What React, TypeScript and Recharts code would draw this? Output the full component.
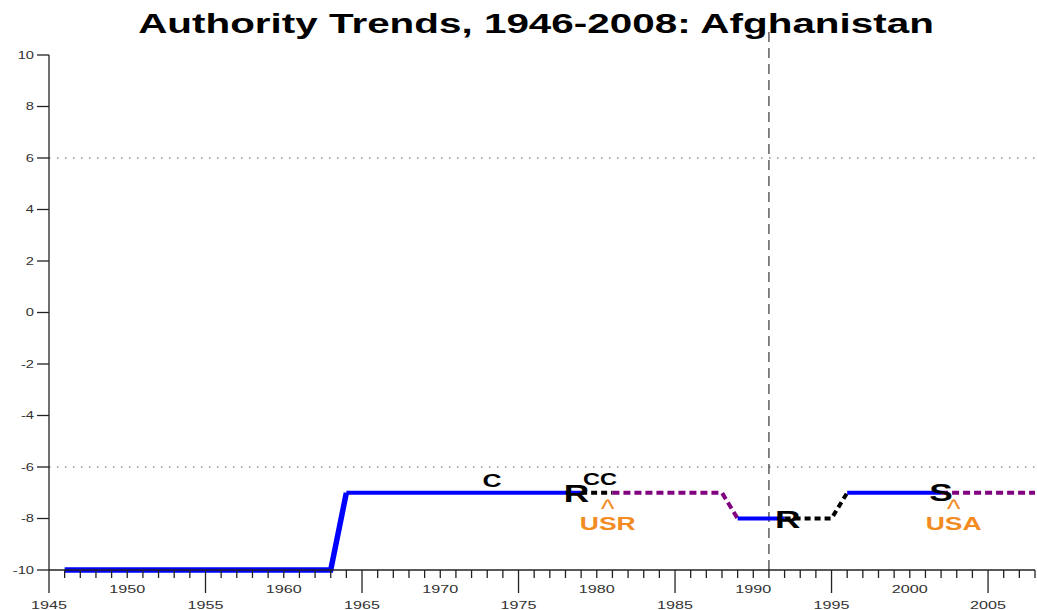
import React from "react";
import { ComposedChart, Line, Scatter, XAxis, YAxis, ReferenceLine } from "recharts";

const FONT = '"Liberation Sans", Arial, Helvetica, sans-serif';
// the source picture is stretched sideways, so text gets widened too
const SX = 1.47;

// polity score segments as [year, score]
const autocracyEarly = [[1946, -10], [1963, -10], [1964, -7]];
const autocracyLate = [[1964, -7], [1979, -7]];
const transitionOne = [[1979, -7], [1981, -7]];
const interruptionOne = [[1981, -7], [1988, -7], [1989, -8]];
const autocracyMid = [[1989, -8], [1992, -8]];
const transitionTwo = [[1992, -8], [1995, -8], [1996, -7]];
const autocracyRecent = [[1996, -7], [2002, -7]];
const interruptionTwo = [[2002, -7], [2008, -7]];

// event codes on the line
const eventYears = [1973.3, 1978.7, 1980.2, 1992.2, 2002];
const eventLevels = [-7, -7, -7, -8, -7];
const eventCodes = ["C", "R", "CC", "R", "S"];

// foreign interventions
const foreignYears = [1980.7, 2002.8];
const foreignLevels = [-7, -7];
const foreignCodes = ["USR", "USA"];

const yTicks = [-10, -8, -6, -4, -2, 0, 2, 4, 6, 8, 10];
const xStart = 1945;
const xEnd = 2008;
const xTicks = Array.from({ length: xEnd - xStart + 1 }, (_, i) => xStart + i);

const toRows = (pts: number[][]) => pts.map(([year, v]) => ({ year, v }));
const events = eventYears.map((year, i) => ({ year, v: eventLevels[i], code: eventCodes[i] }));
const foreign = foreignYears.map((year, i) => ({ year, v: foreignLevels[i], code: foreignCodes[i] }));

const eventStyle: Record<string, { size: number; dy: number }> = {
  C: { size: 18, dy: -6 },
  CC: { size: 16, dy: -8 },
  R: { size: 24, dy: 9 },
  S: { size: 24, dy: 8.5 },
};

const ORANGE = "#F28C22";

function YearTick(props: any) {
  const { x, y, payload } = props;
  const yr = payload.value;
  const major = yr % 10 === 5;
  const labeled = yr % 5 === 0;
  return (
    <g>
      <line x1={x} x2={x} y1={y} y2={y + (major ? 23 : 8)} stroke="#222" strokeWidth={1.3} />
      {labeled && (
        <text
          transform={`translate(${x},${y + (major ? 39 : 23)}) scale(${SX},1)`}
          textAnchor="middle"
          fontSize={11}
          fill="#333"
          fontFamily={FONT}
        >
          {yr}
        </text>
      )}
    </g>
  );
}

function ScoreTick(props: any) {
  const { x, y, payload } = props;
  return (
    <g>
      <line x1={x - 12} x2={x} y1={y} y2={y} stroke="#222" strokeWidth={1.3} />
      <text
        transform={`translate(${x - 15},${y + 3.6}) scale(${SX},1)`}
        textAnchor="end"
        fontSize={10}
        fill="#333"
        fontFamily={FONT}
      >
        {payload.value}
      </text>
    </g>
  );
}

function EventMark(props: any) {
  const { cx, cy, payload } = props;
  const st = eventStyle[payload.code];
  return (
    <text
      transform={`translate(${cx},${cy + st.dy}) scale(${SX},1)`}
      textAnchor="middle"
      fontSize={st.size}
      fontWeight="bold"
      fill="#000"
      fontFamily={FONT}
    >
      {payload.code}
    </text>
  );
}

function ForeignMark(props: any) {
  const { cx, cy, payload } = props;
  return (
    <g>
      <text
        transform={`translate(${cx},${cy + 25}) scale(1.1,1)`}
        textAnchor="middle"
        fontSize={26}
        fill={ORANGE}
        fontFamily={FONT}
      >
        ^
      </text>
      <text
        transform={`translate(${cx},${cy + 37}) scale(${SX},1)`}
        textAnchor="middle"
        fontSize={18}
        fontWeight="bold"
        fill={ORANGE}
        fontFamily={FONT}
      >
        {payload.code}
      </text>
    </g>
  );
}

export default function App() {
  const blue = "#0000FF";
  const purple = "#800080";
  return (
    <div style={{ position: "absolute", left: 0, top: 0, width: 1037, height: 610, background: "#fff" }}>
      <svg width={1037} height={50} style={{ position: "absolute", left: 0, top: 0 }}>
        <text
          transform={`translate(536,33) scale(${SX},1)`}
          textAnchor="middle"
          fontSize={27.5}
          fontWeight="bold"
          fill="#000"
          fontFamily={FONT}
        >
          Authority Trends, 1946-2008: Afghanistan
        </text>
      </svg>
      <ComposedChart width={1037} height={610} margin={{ top: 55, right: 2, bottom: 0, left: 0 }}>
        <XAxis
          dataKey="year"
          type="number"
          domain={[xStart, xEnd]}
          ticks={xTicks}
          interval={0}
          allowDataOverflow
          height={40}
          tickLine={false}
          tickSize={0}
          tickMargin={0}
          tick={<YearTick />}
          axisLine={{ stroke: "#222", strokeWidth: 1.3 }}
        />
        <YAxis
          type="number"
          domain={[-10, 10]}
          ticks={yTicks}
          interval={0}
          width={49}
          tickLine={false}
          tickSize={0}
          tickMargin={0}
          tick={<ScoreTick />}
          axisLine={{ stroke: "#222", strokeWidth: 1.3 }}
        />
        <ReferenceLine y={6} stroke="#555" strokeWidth={1.2} strokeDasharray="1.5 6.5" />
        <ReferenceLine y={-6} stroke="#555" strokeWidth={1.2} strokeDasharray="1.5 6.5" />
        <ReferenceLine
          segment={[{ x: 1991, y: -10 }, { x: 1991, y: 11 }]}
          ifOverflow="visible"
          stroke="#333"
          strokeWidth={1.2}
          strokeDasharray="10 6"
        />
        <Line data={toRows(autocracyEarly)} dataKey="v" stroke={blue} strokeWidth={5.5} dot={false} isAnimationActive={false} />
        <Line data={toRows(autocracyLate)} dataKey="v" stroke={blue} strokeWidth={4} dot={false} isAnimationActive={false} />
        <Line data={toRows(transitionOne)} dataKey="v" stroke="#000" strokeWidth={4} strokeDasharray="6 4" dot={false} isAnimationActive={false} />
        <Line data={toRows(interruptionOne)} dataKey="v" stroke={purple} strokeWidth={4} strokeDasharray="7 4" dot={false} isAnimationActive={false} />
        <Line data={toRows(autocracyMid)} dataKey="v" stroke={blue} strokeWidth={4} dot={false} isAnimationActive={false} />
        <Line data={toRows(transitionTwo)} dataKey="v" stroke="#000" strokeWidth={4} strokeDasharray="6 4" dot={false} isAnimationActive={false} />
        <Line data={toRows(autocracyRecent)} dataKey="v" stroke={blue} strokeWidth={4} dot={false} isAnimationActive={false} />
        <Line data={toRows(interruptionTwo)} dataKey="v" stroke={purple} strokeWidth={4} strokeDasharray="7 4" dot={false} isAnimationActive={false} />
        <Scatter data={events} dataKey="v" shape={<EventMark />} isAnimationActive={false} />
        <Scatter data={foreign} dataKey="v" shape={<ForeignMark />} isAnimationActive={false} />
      </ComposedChart>
    </div>
  );
}
